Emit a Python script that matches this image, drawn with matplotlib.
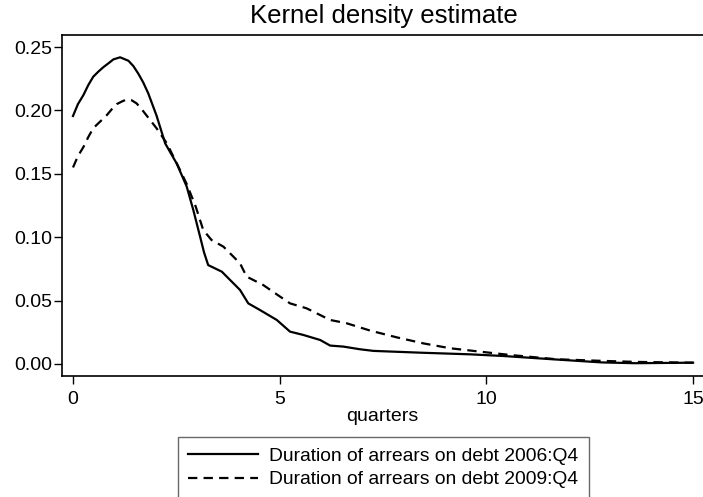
import matplotlib
matplotlib.use("Agg")
import matplotlib.pyplot as plt

plt.rcParams['font.family'] = ['Liberation Sans', 'DejaVu Sans']

# density curves
x_2006 = [0.0, 0.12, 0.25, 0.37, 0.49, 0.61, 0.73, 0.85, 0.98, 1.14, 1.34, 1.46,
          1.58, 1.70, 1.82, 2.02, 2.23, 2.51, 2.75, 2.91, 3.07, 3.17, 3.27, 3.6,
          4.04, 4.24, 4.52, 4.93, 5.25, 5.57, 5.98, 6.22, 6.54, 6.94, 7.27, 8.4,
          9.6, 10.4, 11.6, 12.8, 13.6, 15.0]
y_2006 = [0.1956, 0.205, 0.212, 0.220, 0.2266, 0.2305, 0.234, 0.237, 0.2403,
          0.2419, 0.2392, 0.235, 0.229, 0.222, 0.2135, 0.196, 0.174, 0.158,
          0.140, 0.1215, 0.101, 0.088, 0.078, 0.0728, 0.0584, 0.0478, 0.0426,
          0.0347, 0.0255, 0.0229, 0.0189, 0.0145, 0.0137, 0.0116, 0.0103,
          0.0089, 0.0076, 0.0063, 0.0037, 0.0012, 0.0006, 0.001]

x_2009 = [0.0, 0.12, 0.25, 0.37, 0.49, 0.65, 0.81, 0.94, 1.06, 1.18, 1.30, 1.42,
          1.54, 1.66, 1.78, 2.02, 2.27, 2.55, 2.75, 2.97, 3.15, 3.35, 3.64, 4.04,
          4.20, 4.60, 5.01, 5.25, 5.65, 6.22, 6.62, 7.19, 7.83, 8.48, 9.12, 9.85,
          10.57, 11.70, 12.83, 13.64, 15.0]
y_2009 = [0.155, 0.164, 0.171, 0.179, 0.186, 0.191, 0.196, 0.201, 0.205, 0.207,
          0.2087, 0.208, 0.2055, 0.201, 0.196, 0.186, 0.174, 0.1556, 0.142,
          0.124, 0.1057, 0.0978, 0.0925, 0.0794, 0.0689, 0.0623, 0.0531, 0.0478,
          0.0439, 0.0347, 0.0321, 0.0263, 0.021, 0.0162, 0.0124, 0.0097, 0.0071,
          0.0037, 0.0024, 0.0016, 0.001]

labels = ["Duration of arrears on debt 2006:Q4", "Duration of arrears on debt 2009:Q4"]
xticks = [0, 5, 10, 15]
yticks = [0.00, 0.05, 0.10, 0.15, 0.20, 0.25]

fig = plt.figure(figsize=(7.03, 4.97), dpi=100)
ax = fig.add_axes([62 / 703, (497 - 376) / 497, 641 / 703, 341 / 497])

ax.plot(x_2006, y_2006, color='black', lw=1.6, label=labels[0])
ax.plot(x_2009, y_2009, color='black', lw=1.6, dashes=(4.2, 2.8), label=labels[1])

ax.set_xlim(-0.266, 15.24)
ax.set_ylim(-0.0095, 0.2595)
ax.set_xticks(xticks)
ax.set_xticklabels([str(t) for t in xticks])
ax.set_yticks(yticks)
ax.set_yticklabels(["%.2f" % t for t in yticks])
ax.spines['right'].set_visible(False)
for s in ['left', 'bottom', 'top']:
    ax.spines[s].set_linewidth(1.2)
ax.tick_params(axis='both', direction='out', length=5.8, width=1, labelsize=14)
ax.tick_params(axis='x', pad=5)
ax.tick_params(axis='y', pad=1.5)
ax.set_xlabel("quarters", fontsize=14, labelpad=0)

fig.text(384 / 703, 1 - 16 / 497, "Kernel density estimate", fontsize=18.5,
         ha='center', va='center')

leg = fig.legend(loc='upper center', bbox_to_anchor=(383.5 / 703, 1 - 437 / 497),
                 fontsize=13.9, frameon=True, fancybox=False, handlelength=3.6,
                 borderpad=0.55, labelspacing=0.3, handletextpad=0.6,
                 borderaxespad=0)
leg.get_frame().set_edgecolor('#444444')
leg.get_frame().set_linewidth(1.0)

fig.savefig("out.png", dpi=100)
